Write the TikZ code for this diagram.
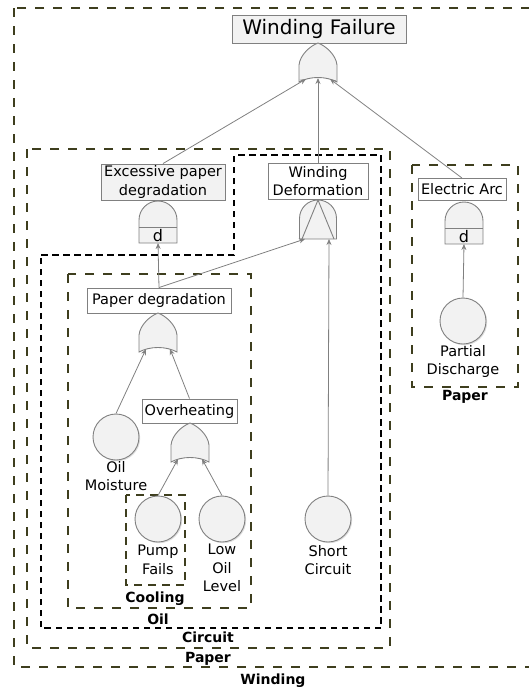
\documentclass[tikz,border=0pt]{standalone}
\usepackage{fontspec}
\setmainfont{DejaVu Sans}
\usetikzlibrary{arrows.meta,shadows}
\definecolor{olivebox}{RGB}{62,62,30}
\definecolor{linegray}{RGB}{128,128,128}
\definecolor{gatefill}{RGB}{242,242,242}
\tikzset{
  gatestyle/.style={draw=linegray,fill=gatefill,line width=0.9pt},
  txtbox/.style={draw=linegray,line width=0.9pt,fill=white,inner sep=1pt,align=center,
    font=\fontsize{14.5}{18.5}\selectfont},
  evt/.style={circle,draw=linegray,fill=gatefill,line width=0.9pt,minimum size=46pt,inner sep=0pt,
    drop shadow={shadow xshift=1.2pt,shadow yshift=-1.2pt,opacity=0.25}},
  evtlab/.style={align=center,inner sep=0pt,font=\fontsize{14.5}{18.5}\selectfont,anchor=north},
  grplab/.style={font=\fontsize{14}{16}\selectfont\bfseries,inner sep=0pt},
  olivedash/.style={draw=olivebox,line width=1.4pt,dash pattern=on 9pt off 9pt},
  olivedashs/.style={draw=olivebox,line width=1.4pt,dash pattern=on 8pt off 6pt},
  blackdash/.style={draw=black,line width=1.4pt,dash pattern=on 6.5pt off 4.5pt},
  conn/.style={draw=linegray,line width=0.8pt,-{Stealth[length=6pt,width=5pt]}},
  orgate/.pic={
    \draw[gatestyle] (0,0) .. controls (8,3) and (18,12) .. (19,22) -- (19,39)
      .. controls (8,33) and (-8,33) .. (-19,39) -- (-19,22) .. controls (-18,12) and (-8,3) .. cycle;
    \coordinate (-l) at (-12,36);
    \coordinate (-m) at (0,35);
    \coordinate (-r) at (12,36);
  },
  andd/.pic={
    \draw[gatestyle] (-19,42) -- (-19,19) .. controls (-19,8.5) and (-10.5,0) .. (0,0)
      .. controls (10.5,0) and (19,8.5) .. (19,19) -- (19,42) -- cycle;
    \draw[linegray,line width=0.9pt] (-19,26) -- (19,26);
    \node[inner sep=0pt,font=\fontsize{16}{16}\selectfont] (-d) at (0,34.5) {d};
    \coordinate (-in) at (0,42);
  },
  pand/.pic={
    \draw[gatestyle] (-18.5,39) -- (-18.5,18.5) .. controls (-18.5,8.2) and (-10.2,0) .. (0,0)
      .. controls (10.2,0) and (18.5,8.2) .. (18.5,18.5) -- (18.5,39) -- cycle;
    \draw[linegray,line width=0.9pt] (-16,39) -- (0,0) -- (16,39);
    \coordinate (-l) at (-13,39);
    \coordinate (-r) at (11,39);
  },
}
\begin{document}
\begin{tikzpicture}[x=1pt,y=-1pt]
\useasboundingbox (0,0) rectangle (529,691);
% group boxes
\draw[olivedash] (14,8) rectangle (540,667);
\draw[olivedash] (27,149) rectangle (390,648);
\draw[blackdash] (41,255) -- (234,255) -- (234,155) -- (381,155) -- (381,628) -- (41,628) -- cycle;
\draw[olivedash] (68,274) rectangle (251,608);
\draw[olivedashs] (126,495) rectangle (185,585);
\draw[olivedash] (412,165) rectangle (518,387);
% group labels
\node[grplab] (lwinding) at (273,681) {Winding};
\node[grplab] (lpaper) at (208,659) {Paper};
\node[grplab] (lcircuit) at (208,637) {Circuit};
\node[grplab] (loil) at (158,619) {Oil};
\node[grplab] (lcooling) at (155,599) {Cooling};
\node[grplab] (lpaper2) at (465,397) {Paper};
% event boxes
\node[txtbox,fill=gatefill,minimum width=174pt,minimum height=28pt,font=\fontsize{20}{24}\selectfont] (wf) at (319,29) {Winding Failure};
\node[txtbox,fill=gatefill,minimum width=124pt,minimum height=36pt] (epd) at (163,182) {Excessive paper\\degradation};
\node[txtbox,minimum width=100pt,minimum height=36pt] (wd) at (318,181) {Winding\\Deformation};
\node[txtbox,minimum width=88pt,minimum height=22pt] (ea) at (462,189.5) {Electric Arc};
\node[txtbox,minimum width=144pt,minimum height=25pt] (pd) at (159,300.5) {Paper degradation};
\node[txtbox,minimum width=95pt,minimum height=24pt] (oh) at (189.5,411) {Overheating};
% gates
\pic (g1) at (318,43) {orgate};
\pic (g2) at (158,201) {andd};
\pic (g3) at (318,200) {pand};
\pic (g4) at (464,202) {andd};
\pic (g5) at (158,313) {orgate};
\pic (g6) at (190,423) {orgate};
% basic events
\node[evt] (om) at (116,437) {};
\node[evtlab] (omlab) at (116,461) {Oil\\Moisture};
\node[evt] (pf) at (158,519) {};
\node[evtlab] (pflab) at (158,545) {Pump\\Fails};
\node[evt] (lol) at (222,519) {};
\node[evtlab] (lollab) at (222,544) {Low\\Oil\\Level};
\node[evt] (sc) at (328,519) {};
\node[evtlab] (sclab) at (328,545) {Short\\Circuit};
\node[evt] (pdis) at (463,321) {};
\node[evtlab] (pdislab) at (463,345) {Partial\\Discharge};
% connectors
\draw[conn] (epd.north) -- (g1-l);
\draw[conn] (wd.north) -- (g1-m);
\draw[conn] (ea.north) -- (g1-r);
\draw[conn] (pd.north) -- (g2-in);
\draw[conn] (pd.north) -- (g3-l);
\draw[conn] (sc.north) -- (g3-r);
\draw[conn] (pdis.north) -- (g4-in);
\draw[conn] (om.north) -- (g5-l);
\draw[conn] (oh.north) -- (g5-r);
\draw[conn] (pf.north) -- (g6-l);
\draw[conn] (lol.north) -- (g6-r);
\end{tikzpicture}
\end{document}
